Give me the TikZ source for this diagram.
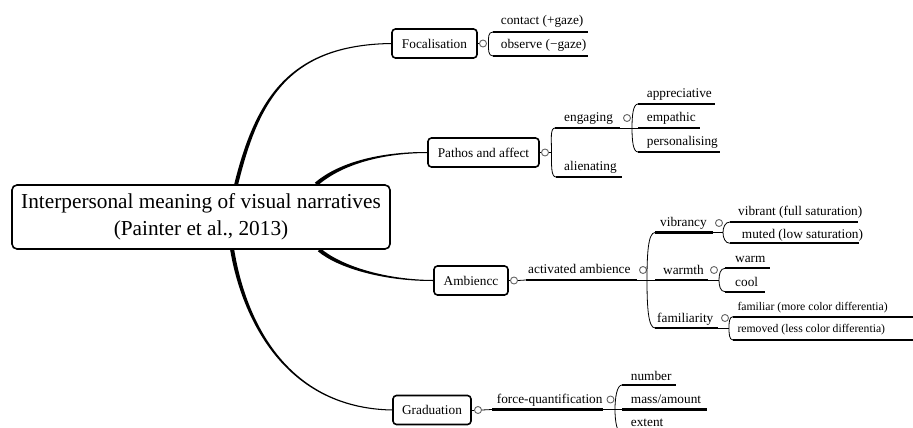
\documentclass[tikz,border=0pt]{standalone}
\usepackage{fontspec}
\setmainfont{Liberation Serif}
\usetikzlibrary{calc,backgrounds}
\tikzset{
  box/.style={draw, line width=1.6pt, rounded corners=3.5pt, fill=white, inner sep=0pt,
    font=\fontsize{13.3}{16}\selectfont},
  rootbox/.style={box, rounded corners=5pt, font=\fontsize{21.3}{26.7}\selectfont, align=center},
  lbl/.style={anchor=base west, inner sep=0pt, font=\fontsize{13.3}{16}\selectfont},
  smalllbl/.style={font=\fontsize{11.7}{14}\selectfont},
  uline/.style={line width=2.3pt},
  thinline/.style={line width=0.8pt},
  knob/.style={circle, draw=black!60, line width=0.9pt, fill=white, inner sep=0pt, minimum size=7pt},
}
% #1 name, #2 extra style, #3 text x, #4 baseline y, #5 underline x1, #6 underline x2, #7 underline y, #8 text
\newcommand\leaf[8]{%
  \node[lbl,#2] (#1) at (#3,#4) {#8};
  \draw[uline] ($(#1.base west)+({#5-#3},{#7-#4})$) coordinate (#1-u) -- ++({#6-#5},0) coordinate (#1-e);}
% bracket: #1 top, #2 middle, #3 bottom, #4 horizontal control, #5 vertical control
\newcommand\brk[5]{%
  \draw[thinline] (#1) .. controls +(-#4,0) and +(0,-#5) .. (#2) .. controls +(0,#5) and +(-#4,0) .. (#3);}
\begin{document}
\begin{tikzpicture}[x=1pt,y=-1pt]
\useasboundingbox (0,0) rectangle (913,428);
\clip (0,0) rectangle (913,428);

% ---------- main nodes
\node[rootbox, minimum width=378, minimum height=64] (root) at (201,217)
  {Interpersonal meaning of visual narratives\\(Painter et al., 2013)};
\node[box, minimum width=85, minimum height=29] (foc) at (434.5,43.5) {Focalisation};
\node[box, minimum width=111, minimum height=29] (pat) at (483.5,152.5) {Pathos and affect};
\node[box, minimum width=74, minimum height=29] (amb) at (471,280.5) {Ambiencc};
\node[box, minimum width=78, minimum height=29] (gra) at (432,410) {Graduation};

% ---------- root connectors (tapered)
\coordinate (sF) at ($(root.north west)+(225,0)$);
\coordinate (sP) at ($(root.north west)+(305,0)$);
\coordinate (sA) at ($(root.south west)+(308,0)$);
\coordinate (sG) at ($(root.south west)+(221,0)$);
\begin{scope}[on background layer]
\fill ($(sF)+(-2,0)$) .. controls ($(sF)+(19.25,-85.4)$) and ($(foc.west)+(-102,0.8)$) .. ($(foc.west)+(0,-0.5)$)
  -- ($(foc.west)+(0,0.5)$) .. controls ($(foc.west)+(-102,2.2)$) and ($(sF)+(22.75,-84.6)$) .. ($(sF)+(2,0)$) -- cycle;
\fill ($(sP)+(-1.3,-1.5)$) .. controls ($(sP)+(21.8,-21.4)$) and ($(pat.west)+(-48,-0.8)$) .. ($(pat.west)+(0,-0.5)$)
  -- ($(pat.west)+(0,0.5)$) .. controls ($(pat.west)+(-48,0.8)$) and ($(sP)+(24.2,-18.6)$) .. ($(sP)+(1.3,1.5)$) -- cycle;
\fill ($(sA)+(1.3,-1.5)$) .. controls ($(sA)+(21.2,15.6)$) and ($(amb.west)+(-49,-0.8)$) .. ($(amb.west)+(0,-0.5)$)
  -- ($(amb.west)+(0,0.5)$) .. controls ($(amb.west)+(-49,0.8)$) and ($(sA)+(18.8,18.4)$) .. ($(sA)+(-1.3,1.5)$) -- cycle;
\fill ($(sG)+(2,-0.3)$) .. controls ($(sG)+(11.8,60.7)$) and ($(gra.west)+(-112,-2.8)$) .. ($(gra.west)+(0,-0.5)$)
  -- ($(gra.west)+(0,0.5)$) .. controls ($(gra.west)+(-112,-1.2)$) and ($(sG)+(8.2,61.3)$) .. ($(sG)+(-2,0.3)$) -- cycle;
\end{scope}

% ---------- Focalisation
\node[knob] (fock) at (483,43.5) {};
\draw[thinline] (foc.east) -- (fock.west);
\leaf{contact}{}{500.7}{25}{493}{588}{32}{contact (+gaze)}
\leaf{observe}{}{500.7}{48.5}{493}{588}{56}{observe (−gaze)}
\coordinate (focm) at ($(fock.east)+(1.5,0)$);
\brk{contact-u}{focm}{observe-u}{5}{6}

% ---------- Pathos and affect
\node[knob] (patk) at (545,152.5) {};
\coordinate (patm) at (551.5,152.5);
\draw[thinline] (pat.east) -- (patk.west);
\draw[thinline] (patk.east) -- (patm);
\leaf{eng}{}{564}{121.5}{555}{620}{128}{engaging}
\leaf{ali}{}{564}{170.5}{556}{622}{177}{alienating}
\brk{eng-u}{patm}{ali-u}{5}{13}
\node[knob] (engk) at (627,118) {};
\leaf{appr}{}{646.7}{97.3}{638}{715}{104}{appreciative}
\leaf{emp}{}{646.7}{121.5}{638}{700}{128}{empathic}
\leaf{pers}{}{646.7}{145.3}{638}{720}{152}{personalising}
\draw[thinline] (eng-e) -- (emp-u);
\coordinate (engm) at (632,128);
\brk{appr-u}{engm}{pers-u}{5}{12}

% ---------- Ambience
\node[knob] (ambk) at (514,280.5) {};
\draw[thinline] (amb.east) -- (ambk.west);
\leaf{act}{}{528}{273.5}{526}{637}{280}{activated ambience}
\draw[thinline] (ambk.east) -- (act-u);
\node[knob] (actk) at (643,270) {};
\leaf{vib}{}{660}{226.5}{655}{713}{232.5}{vibrancy}
\leaf{warmth}{}{663}{274.5}{655}{708}{280}{warmth}
\leaf{fam}{}{657}{322.5}{655}{718}{328}{familiarity}
\draw[thinline] (act-e) -- (warmth-u);
\coordinate (actm) at (647,280);
\brk{vib-u}{actm}{fam-u}{7}{25}

\node[knob] (vibk) at (719,223) {};
\leaf{vibrant}{}{738}{215.5}{730}{858}{222}{vibrant (full saturation)}
\leaf{muted}{}{741.7}{238.5}{730}{859}{243.3}{muted (low saturation)}
\coordinate (vibm) at (723,232.5);
\draw[thinline] (vib-e) -- (vibm);
\brk{vibrant-u}{vibm}{muted-u}{5}{5}

\node[knob] (warmk) at (714,270) {};
\leaf{warm}{}{735}{262.7}{725}{770}{268.3}{warm}
\leaf{cool}{}{735}{286}{725}{765}{291.7}{cool}
\coordinate (warmm) at (719,280);
\draw[thinline] (warmth-e) -- (warmm);
\brk{warm-u}{warmm}{cool-u}{5}{5}

\node[knob] (famk) at (725,318) {};
\leaf{familiar}{smalllbl}{737.3}{310}{733}{913}{316.7}{familiar (more color differentia)}
\leaf{removed}{smalllbl}{737.3}{332.7}{733}{913}{340}{removed (less color differentia)}
\coordinate (famm) at (729,328);
\draw[thinline] (fam-e) -- (famm);
\brk{familiar-u}{famm}{removed-u}{4}{5}

% ---------- Graduation
\node[knob] (grak) at (478,410) {};
\draw[thinline] (gra.east) -- (grak.west);
\leaf{force}{}{496.7}{403.5}{492}{603}{409.5}{force-quantification}
\draw[thinline] (grak.east) -- (force-u);
\node[knob] (forcek) at (610.5,399.5) {};
\leaf{number}{}{630.7}{380}{622}{676}{385}{number}
\leaf{mass}{}{630.7}{403.3}{622}{706.7}{409.5}{mass/amount}
\node[lbl] (extent) at (630.7,426.5) {extent};
\coordinate (extu) at ($(extent.base west)+(-8.7,7)$);
\draw[thinline] (force-e) -- (mass-u);
\coordinate (forcem) at (615,409.5);
\brk{number-u}{forcem}{extu}{5}{12}
\end{tikzpicture}
\end{document}
